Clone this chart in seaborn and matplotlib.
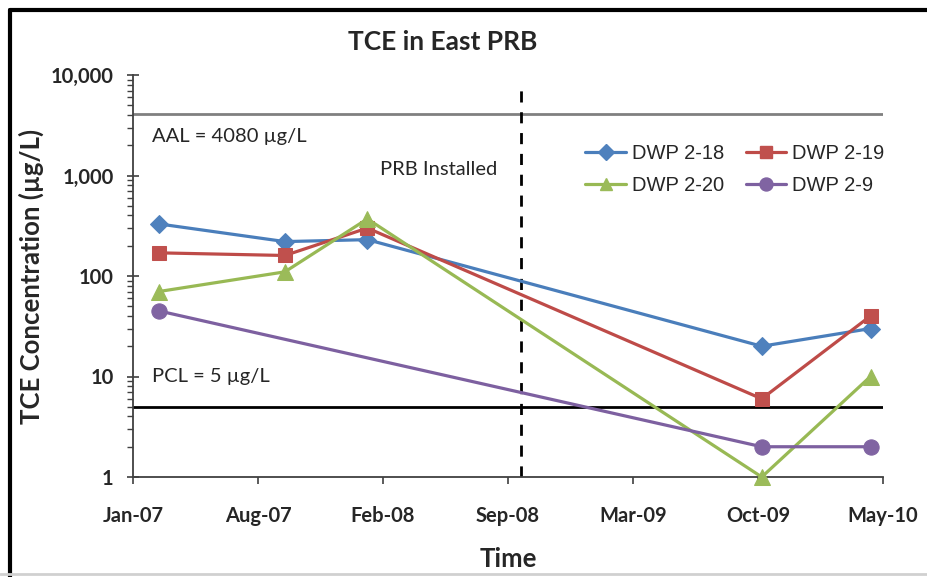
import datetime as dt
import pandas as pd
import seaborn as sns
import matplotlib.pyplot as plt
import matplotlib.dates as mdates
from matplotlib.lines import Line2D
from matplotlib.ticker import FixedLocator, LogLocator, NullFormatter

# sampling dates
sample_dates = ['2007-03-01', '2007-09-19', '2008-01-29', '2009-10-21', '2010-04-13']
dwp_2_18 = [330, 220, 230, 20, 30]
dwp_2_19 = [170, 160, 300, 6, 40]
dwp_2_20 = [70, 110, 370, 1, 10]
dwp_2_9_dates = ['2007-03-01', '2009-10-21', '2010-04-13']
dwp_2_9 = [45, 2, 2]

aal = 4080
pcl = 5
prb_installed = '2008-10-01'

x_start = dt.date(2007, 1, 19)
x_tick_labels = ['Jan-07', 'Aug-07', 'Feb-08', 'Sep-08', 'Mar-09', 'Oct-09', 'May-10']
y_ticks = [1, 10, 100, 1000, 10000]
y_tick_labels = ['1', '10', '100', '1,000', '10,000']

series = [
    ('DWP 2-18', sample_dates, dwp_2_18, '#4A7EBB', '#4F81BD', 'D', 9),
    ('DWP 2-19', sample_dates, dwp_2_19, '#BE4B48', '#C0504D', 's', 10),
    ('DWP 2-20', sample_dates, dwp_2_20, '#98B954', '#9BBB59', '^', 11),
    ('DWP 2-9', dwp_2_9_dates, dwp_2_9, '#7D60A0', '#8064A2', 'o', 11),
]

sns.set_style('ticks')
plt.rcParams['font.family'] = ['Lato', 'DejaVu Sans']

fig = plt.figure(figsize=(9.27, 5.77), dpi=100)
ax = fig.add_axes([133 / 927, 1 - 477 / 577, 750 / 927, 402 / 577])

handles = {}
for name, dates, vals, lc, mc, mk, ms in series:
    df = pd.DataFrame({'date': pd.to_datetime(dates), 'value': vals})
    sns.lineplot(data=df, x='date', y='value', ax=ax, color=lc, linewidth=2.3,
                 marker=mk, markersize=ms, markerfacecolor=mc, markeredgecolor=mc,
                 clip_on=False, zorder=4)
    handles[name] = Line2D([], [], color=lc, linewidth=2.3, marker=mk,
                           markersize=ms * 0.85, markerfacecolor=mc, markeredgecolor=mc)

ax.set_yscale('log')
ax.set_ylim(1, 10000)
ax.set_xlim(x_start, x_start + dt.timedelta(days=1200))

# reference lines
ax.axhline(aal, color='#808080', linewidth=2, zorder=2)
ax.axhline(pcl, color='black', linewidth=2, zorder=2)
ax.axvline(pd.to_datetime(prb_installed), ymin=0, ymax=0.98, color='black',
           linewidth=2, linestyle=(0, (4, 3.5)), zorder=2)

ax.text(0.025, 0.848, 'AAL = 4080 \u00b5g/L', transform=ax.transAxes,
        fontsize=14.5, va='center', ha='left')
ax.text(0.025, 0.25, 'PCL = 5 \u00b5g/L', transform=ax.transAxes,
        fontsize=14.5, va='center', ha='left')
ax.text(pd.to_datetime('2008-05-22'), 1150, 'PRB Installed', fontsize=14.5,
        va='center', ha='center')

# axes styling
x_ticks = [mdates.date2num(x_start + dt.timedelta(days=200 * i)) for i in range(len(x_tick_labels))]
ax.xaxis.set_major_locator(FixedLocator(x_ticks))
ax.set_xticklabels(x_tick_labels, fontsize=14.5, fontweight='bold')
ax.yaxis.set_major_locator(FixedLocator(y_ticks))
ax.yaxis.set_minor_locator(LogLocator(base=10, subs=range(2, 10)))
ax.yaxis.set_minor_formatter(NullFormatter())
ax.set_yticklabels(y_tick_labels, fontsize=14.5, fontweight='bold')

ax.tick_params(axis='x', which='major', direction='out', length=5, width=1.2,
               color='#404040', pad=16)
ax.tick_params(axis='y', which='major', direction='inout', length=8, width=1.2,
               color='#404040', pad=10)
ax.tick_params(axis='y', which='minor', direction='out', length=4.5, width=1,
               color='#404040')
sns.despine(ax=ax)
for side in ['left', 'bottom']:
    ax.spines[side].set_color('#404040')
    ax.spines[side].set_linewidth(1.3)

ax.set_xlabel('Time', fontsize=18.5, fontweight='bold', labelpad=15)
ax.set_ylabel('TCE Concentration (\u00b5g/L)', fontsize=18.5, fontweight='bold')
ax.yaxis.set_label_coords(-0.118, 0.5)
fig.text(443 / 927, 1 - 42 / 577, 'TCE in East PRB', fontsize=19,
         fontweight='bold', ha='center', va='center')

order = ['DWP 2-18', 'DWP 2-20', 'DWP 2-19', 'DWP 2-9']
ax.legend([handles[n] for n in order], order, ncol=2, frameon=False,
          loc='upper left', bbox_to_anchor=(0.579, 0.873),
          prop={'family': 'Liberation Sans', 'size': 14.5},
          handlelength=2.0, columnspacing=1.1, handletextpad=0.3, labelspacing=0.65)

# chart border (black left/top, light bottom)
fig.add_artist(Line2D([10 / 927, 10 / 927], [0, 1 - 10 / 577], color='black',
                      linewidth=3, transform=fig.transFigure))
fig.add_artist(Line2D([10 / 927, 1], [1 - 10 / 577, 1 - 10 / 577], color='black',
                      linewidth=3, transform=fig.transFigure))
fig.add_artist(Line2D([0, 1], [1 - 574 / 577, 1 - 574 / 577], color='#D0D0D0',
                      linewidth=2, transform=fig.transFigure))

fig.savefig('out.png', dpi=100)
